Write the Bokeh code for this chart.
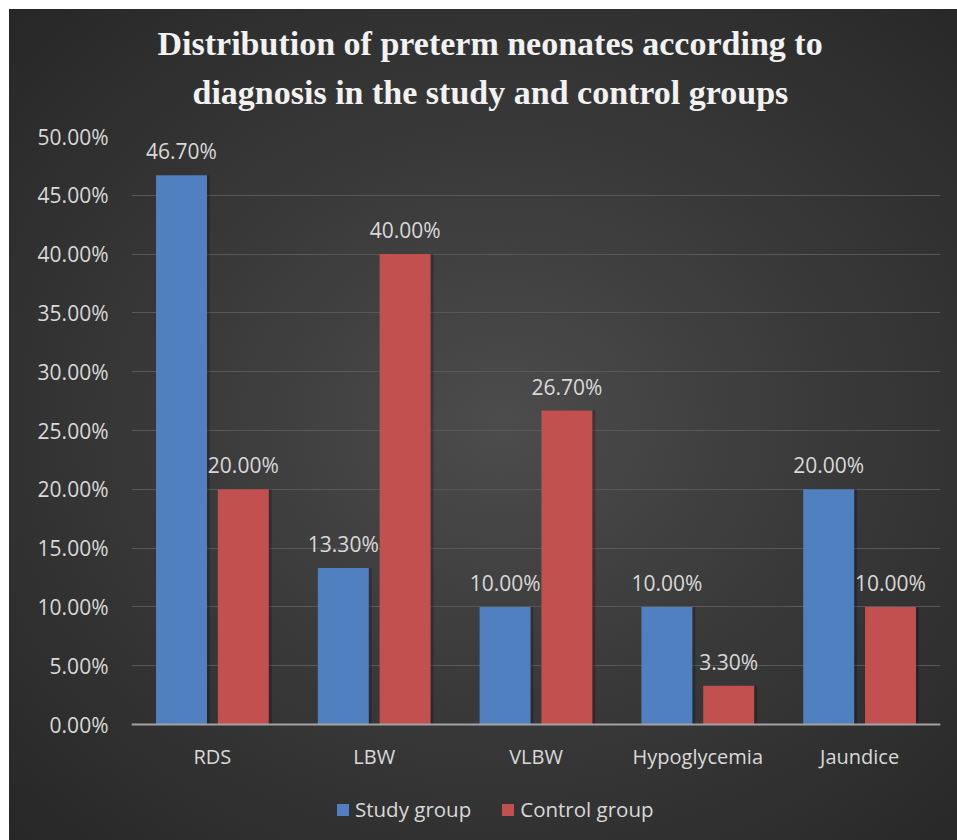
from bokeh.plotting import figure
from bokeh.models import (ColumnDataSource, FactorRange, Range1d, NumeralTickFormatter,
                          FixedTicker, Legend, LegendItem, Title)
from bokeh.transform import dodge
from bokeh.core.properties import value
from bokeh.embed import file_html
from bokeh.resources import INLINE

# ---- data ----
categories = ["RDS", "LBW", "VLBW", "Hypoglycemia", "Jaundice"]
study_group = [0.467, 0.133, 0.100, 0.100, 0.200]
control_group = [0.200, 0.400, 0.267, 0.033, 0.100]
series_names = ["Study group", "Control group"]
y_ticks = [0.0, 0.05, 0.10, 0.15, 0.20, 0.25, 0.30, 0.35, 0.40, 0.45, 0.50]
title_lines = ["Distribution of preterm neonates according to",
               "diagnosis in the study and control groups"]

source = ColumnDataSource(dict(
    cat=categories,
    study=study_group,
    control=control_group,
    study_lbl=[f"{v * 100:.2f}%" for v in study_group],
    control_lbl=[f"{v * 100:.2f}%" for v in control_group],
))

TEXT = "#d9d9d9"
FONT = "Open Sans"
BLUE = "#5080bf"
RED = "#c2504e"

# frame extends to the bottom so the legend (drawn inside it) stays visible;
# the category axis is pinned at y = 0
p = figure(
    x_range=FactorRange(*categories), y_range=Range1d(-0.0986, 0.5),
    width=948, height=831, frame_width=809, frame_height=704,
    output_backend="svg", toolbar_location=None,
    min_border_left=122, min_border_right=17, min_border_top=127, min_border_bottom=0,
    background_fill_alpha=0, border_fill_alpha=0, outline_line_color=None,
    styles={"margin-left": "9px", "margin-top": "9px",
            "background": "radial-gradient(ellipse farthest-corner at 52% 50%, #4c4c4c 0%, #3a3a3a 45%, #272727 100%)"},
)

xa = p.below[0]

# title (two lines; first added sits closest to the plot)
title_offsets = [61, 26]
title_standoffs = [52, -32]
for line, off_x, so in zip(reversed(title_lines), title_offsets, title_standoffs):
    t = Title(text=line, align="left", text_font="Liberation Serif", text_font_style="bold",
              text_font_size="34px", text_color="#f2f2f2", offset=off_x, standoff=so)
    p.add_layout(t, "above")

# shadows
off = 0.018
p.vbar(x=dodge("cat", -0.191 + off, range=p.x_range), top="study", width=0.315, source=source,
       fill_color="black", fill_alpha=0.22, line_color=None)
p.vbar(x=dodge("cat", 0.191 + off, range=p.x_range), top="control", width=0.315, source=source,
       fill_color="black", fill_alpha=0.22, line_color=None)

r1 = p.vbar(x=dodge("cat", -0.191, range=p.x_range), top="study", width=0.315, source=source,
            fill_color=BLUE, line_color=None)
r2 = p.vbar(x=dodge("cat", 0.191, range=p.x_range), top="control", width=0.315, source=source,
            fill_color=RED, line_color=None)

for xoff, col in ((-0.191, "study"), (0.191, "control")):
    p.text(x=dodge("cat", xoff, range=p.x_range), y=col, text=col + "_lbl", source=source,
           text_align="center", text_baseline="alphabetic", y_offset=-24,
           text_font=value(FONT), text_font_size=value("21px"), text_color=TEXT)

# axes
p.yaxis.ticker = FixedTicker(ticks=y_ticks)
p.yaxis.formatter = NumeralTickFormatter(format="0.00%")
p.yaxis.axis_line_color = None
p.yaxis.major_tick_line_color = None
p.yaxis.minor_tick_line_color = None
p.yaxis.major_label_standoff = 17
p.yaxis.major_label_text_font = FONT
p.yaxis.major_label_text_font_size = "21px"
p.yaxis.major_label_text_color = TEXT

xa.fixed_location = 0
xa.axis_line_color = "#a3a3a3"
xa.axis_line_width = 2
xa.major_tick_line_color = None
xa.minor_tick_line_color = None
xa.major_label_standoff = 12
xa.major_label_text_font = FONT
xa.major_label_text_font_size = "20px"
xa.major_label_text_color = TEXT

p.xgrid.grid_line_color = None
p.ygrid.grid_line_color = "#585858"
p.ygrid.grid_line_width = 1

legend = Legend(
    items=[LegendItem(label=series_names[0], renderers=[r1]),
           LegendItem(label=series_names[1], renderers=[r2])],
    orientation="horizontal", location=(204, 17),
    border_line_color=None, background_fill_alpha=0,
    label_text_font=FONT, label_text_font_size="20.5px", label_text_color=TEXT,
    glyph_width=15, glyph_height=15, label_standoff=5, spacing=29,
    padding=0, margin=0,
)
p.add_layout(legend, "center")

open("out.html", "w").write(file_html(p, INLINE))
